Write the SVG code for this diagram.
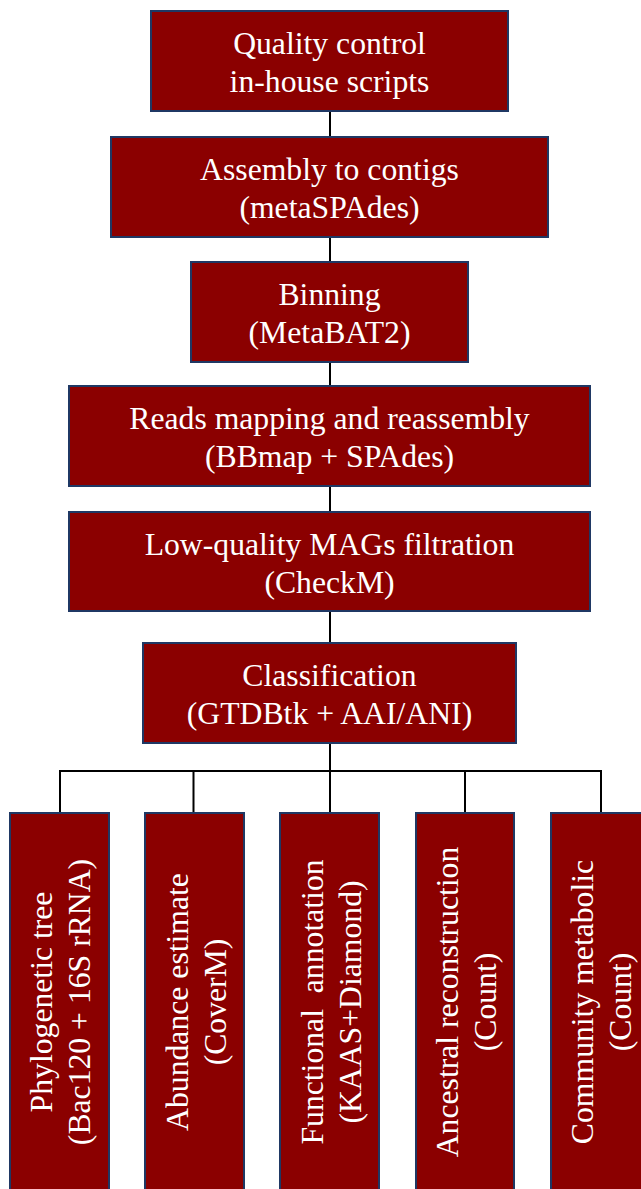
<svg xmlns="http://www.w3.org/2000/svg" width="641" height="1189" viewBox="0 0 641 1189">
<style>
.box{fill:#8b0000;stroke:#1f3864;stroke-width:2}
.t{font-family:"Liberation Serif","Times New Roman",serif;font-size:31.7px;fill:#ffffff;text-anchor:middle}
.c{fill:none;stroke:#000000;stroke-width:2}
</style>
<rect width="641" height="1189" fill="#ffffff"/>
<g id="connectors">
<path class="c" d="M330 111V137M330 237V262M330 362V386M330 486V512M330 611V643M330 743V771"/>
<path class="c" d="M60 813V771H601V813M193.5 771V813M330 771V813M465 771V813"/>
</g>
<g id="n1"><rect class="box" x="151" y="11" width="357" height="100"/>
<text class="t" x="329.5" y="54">Quality control</text><text class="t" x="329.5" y="92">in-house scripts</text></g>
<g id="n2"><rect class="box" x="111" y="137" width="437" height="100"/>
<text class="t" x="329.5" y="180">Assembly to contigs</text><text class="t" x="329.5" y="218">(metaSPAdes)</text></g>
<g id="n3"><rect class="box" x="191" y="262" width="277" height="100"/>
<text class="t" x="329.5" y="305">Binning</text><text class="t" x="329.5" y="343">(MetaBAT2)</text></g>
<g id="n4"><rect class="box" x="69" y="386" width="521" height="100"/>
<text class="t" x="329.5" y="429">Reads mapping and reassembly</text><text class="t" x="329.5" y="467">(BBmap + SPAdes)</text></g>
<g id="n5"><rect class="box" x="69" y="512" width="521" height="99"/>
<text class="t" x="329.5" y="555">Low-quality MAGs filtration</text><text class="t" x="329.5" y="593">(CheckM)</text></g>
<g id="n6"><rect class="box" x="143" y="643" width="373" height="100"/>
<text class="t" x="329.5" y="686">Classification</text><text class="t" x="329.5" y="724">(GTDBtk + AAI/ANI)</text></g>
<g id="n7"><rect class="box" x="10" y="813" width="99" height="390"/>
<text class="t" transform="translate(52 1002) rotate(-90)">Phylogenetic tree</text>
<text class="t" transform="translate(90 1002) rotate(-90)">(Bac120 + 16S rRNA)</text></g>
<g id="n8"><rect class="box" x="145" y="813" width="99" height="390"/>
<text class="t" transform="translate(187.5 1002) rotate(-90)">Abundance estimate</text>
<text class="t" transform="translate(225.5 1002) rotate(-90)">(CoverM)</text></g>
<g id="n9"><rect class="box" x="280" y="813" width="99" height="390"/>
<text class="t" transform="translate(322.5 1002) rotate(-90)">Functional&#160; annotation</text>
<text class="t" transform="translate(360.5 1002) rotate(-90)">(KAAS+Diamond)</text></g>
<g id="n10"><rect class="box" x="416" y="813" width="98" height="390"/>
<text class="t" transform="translate(458 1002) rotate(-90)">Ancestral reconstruction</text>
<text class="t" transform="translate(496 1002) rotate(-90)">(Count)</text></g>
<g id="n11"><rect class="box" x="551" y="813" width="99" height="390"/>
<text class="t" transform="translate(593 1002) rotate(-90)">Community metabolic</text>
<text class="t" transform="translate(631 1002) rotate(-90)">(Count)</text></g>
</svg>
